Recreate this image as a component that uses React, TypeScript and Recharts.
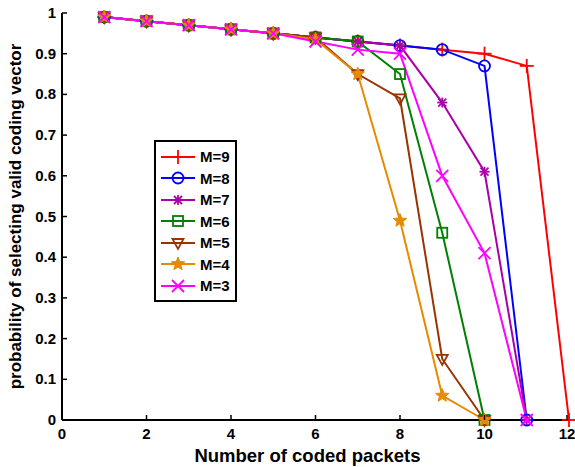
import { LineChart, Line, XAxis, YAxis } from 'recharts';

const packets = [1, 2, 3, 4, 5, 6, 7, 8, 9, 10, 11, 12];
const xTicks = [0, 2, 4, 6, 8, 10, 12];
const yTicks = [0, 0.1, 0.2, 0.3, 0.4, 0.5, 0.6, 0.7, 0.8, 0.9, 1];

const m9 = [0.99, 0.98, 0.97, 0.96, 0.95, 0.94, 0.93, 0.92, 0.91, 0.9, 0.87, 0];
const m8 = [0.99, 0.98, 0.97, 0.96, 0.95, 0.94, 0.93, 0.92, 0.91, 0.87, 0];
const m7 = [0.99, 0.98, 0.97, 0.96, 0.95, 0.94, 0.93, 0.92, 0.78, 0.61, 0];
const m6 = [0.99, 0.98, 0.97, 0.96, 0.95, 0.94, 0.93, 0.85, 0.46, 0];
const m5 = [0.99, 0.98, 0.97, 0.96, 0.95, 0.94, 0.85, 0.79, 0.15, 0];
const m4 = [0.99, 0.98, 0.97, 0.96, 0.95, 0.935, 0.85, 0.49, 0.06, 0];
const m3 = [0.99, 0.98, 0.97, 0.96, 0.95, 0.93, 0.91, 0.9, 0.6, 0.41, 0];

const series = [
  { key: 'm9', name: 'M=9', values: m9, color: '#ff0000', marker: 'plus' },
  { key: 'm8', name: 'M=8', values: m8, color: '#0000ff', marker: 'circle' },
  { key: 'm7', name: 'M=7', values: m7, color: '#aa00aa', marker: 'asterisk' },
  { key: 'm6', name: 'M=6', values: m6, color: '#008000', marker: 'square' },
  { key: 'm5', name: 'M=5', values: m5, color: '#993300', marker: 'triangle' },
  { key: 'm4', name: 'M=4', values: m4, color: '#e68a00', marker: 'star' },
  { key: 'm3', name: 'M=3', values: m3, color: '#ff00ff', marker: 'cross' },
];

const data = packets.map((x, i) => {
  const row: any = { x };
  series.forEach((s) => {
    row[s.key] = i < s.values.length ? s.values[i] : null;
  });
  return row;
});

const FONT = '"Liberation Sans", Arial, sans-serif';

function Marker({ type, cx, cy, color }: any) {
  const sw = 1.8;
  switch (type) {
    case 'plus':
      return (
        <g stroke={color} strokeWidth={sw}>
          <line x1={cx - 7} y1={cy} x2={cx + 7} y2={cy} />
          <line x1={cx} y1={cy - 7} x2={cx} y2={cy + 7} />
        </g>
      );
    case 'circle':
      return <circle cx={cx} cy={cy} r={5.5} fill="none" stroke={color} strokeWidth={sw} />;
    case 'asterisk':
      return (
        <g stroke={color} strokeWidth={sw}>
          <line x1={cx - 5} y1={cy} x2={cx + 5} y2={cy} />
          <line x1={cx} y1={cy - 5} x2={cx} y2={cy + 5} />
          <line x1={cx - 4} y1={cy - 4} x2={cx + 4} y2={cy + 4} />
          <line x1={cx - 4} y1={cy + 4} x2={cx + 4} y2={cy - 4} />
        </g>
      );
    case 'square':
      return <rect x={cx - 5} y={cy - 5} width={10} height={10} fill="none" stroke={color} strokeWidth={sw} />;
    case 'triangle':
      return (
        <polygon
          points={`${cx - 5.5},${cy - 4} ${cx + 5.5},${cy - 4} ${cx},${cy + 6}`}
          fill="none"
          stroke={color}
          strokeWidth={sw}
        />
      );
    case 'star': {
      const pts: string[] = [];
      for (let k = 0; k < 10; k++) {
        const r = k % 2 === 0 ? 7 : 3;
        const a = -Math.PI / 2 + (k * Math.PI) / 5;
        pts.push(`${cx + r * Math.cos(a)},${cy + r * Math.sin(a)}`);
      }
      return <polygon points={pts.join(' ')} fill={color} stroke={color} strokeWidth={1} />;
    }
    default:
      return (
        <g stroke={color} strokeWidth={sw}>
          <line x1={cx - 6} y1={cy - 6} x2={cx + 6} y2={cy + 6} />
          <line x1={cx - 6} y1={cy + 6} x2={cx + 6} y2={cy - 6} />
        </g>
      );
  }
}

const tickText = { fontFamily: FONT, fontWeight: 700, fontSize: 15, fill: '#000' };

function BottomTick({ x, y, payload }: any) {
  return (
    <g>
      <line x1={x} y1={y} x2={x} y2={y - 5} stroke="#000" strokeWidth={1.5} />
      <text x={x} y={y + 19} textAnchor="middle" style={tickText}>{payload.value}</text>
    </g>
  );
}

function TopTick({ x, y }: any) {
  return <line x1={x} y1={y} x2={x} y2={y + 5} stroke="#000" strokeWidth={1.5} />;
}

function LeftTick({ x, y, payload }: any) {
  return (
    <g>
      <line x1={x} y1={y} x2={x + 5} y2={y} stroke="#000" strokeWidth={1.5} />
      <text x={x - 6} y={y + 5} textAnchor="end" style={tickText}>{payload.value}</text>
    </g>
  );
}

function RightTick({ x, y }: any) {
  return <line x1={x} y1={y} x2={x - 5} y2={y} stroke="#000" strokeWidth={1.5} />;
}

function LegendBox() {
  return (
    <div
      style={{
        position: 'absolute',
        left: 154,
        top: 140,
        border: '2px solid #000',
        background: '#fff',
        width: 79,
        padding: '4px 0 3px 0',
        fontFamily: FONT,
      }}
    >
      {series.map((s) => (
        <div key={s.key} style={{ display: 'flex', alignItems: 'center', height: 21.5 }}>
          <svg width={44} height={20} style={{ display: 'block' }}>
            <line x1={5} y1={10} x2={39} y2={10} stroke={s.color} strokeWidth={2} />
            <Marker type={s.marker} cx={22} cy={10} color={s.color} />
          </svg>
          <span style={{ fontWeight: 700, fontSize: 15, color: '#000' }}>{s.name}</span>
        </div>
      ))}
    </div>
  );
}

export default function App() {
  return (
    <div style={{ position: 'absolute', left: 0, top: 0, width: 575, height: 467, background: '#fff' }}>
      <LineChart width={575} height={467} data={data} margin={{ top: 13, right: 6, bottom: 0, left: 0 }}>
        <XAxis
          dataKey="x"
          type="number"
          domain={[0, 12]}
          ticks={xTicks}
          tickSize={0}
          tickMargin={0}
          tickLine={false}
          tick={<BottomTick />}
          height={47}
          axisLine={{ stroke: '#000', strokeWidth: 2 }}
          label={{
            value: 'Number of coded packets',
            position: 'insideBottom',
            offset: 5,
            dx: -8,
            style: { fontFamily: FONT, fontWeight: 700, fontSize: 18.5, fill: '#000' },
          }}
        />
        <XAxis
          xAxisId="top"
          orientation="top"
          dataKey="x"
          type="number"
          domain={[0, 12]}
          ticks={xTicks}
          tickSize={0}
          tickMargin={0}
          tickLine={false}
          tick={<TopTick />}
          height={0}
          axisLine={{ stroke: '#000', strokeWidth: 2 }}
        />
        <YAxis
          type="number"
          domain={[0, 1]}
          ticks={yTicks}
          tickSize={0}
          tickMargin={0}
          tickLine={false}
          tick={<LeftTick />}
          width={62}
          axisLine={{ stroke: '#000', strokeWidth: 2 }}
          label={{
            value: 'probability of selecting valid coding vector',
            angle: -90,
            position: 'insideLeft',
            offset: 15,
            style: { fontFamily: FONT, fontWeight: 700, fontSize: 17, fill: '#000', textAnchor: 'middle' },
          }}
        />
        <YAxis
          yAxisId="right"
          orientation="right"
          type="number"
          domain={[0, 1]}
          ticks={yTicks}
          tickSize={0}
          tickMargin={0}
          tickLine={false}
          tick={<RightTick />}
          width={0}
          axisLine={{ stroke: '#000', strokeWidth: 2 }}
        />
        {series.map((s) => (
          <Line
            key={s.key}
            dataKey={s.key}
            name={s.name}
            stroke={s.color}
            strokeWidth={2}
            isAnimationActive={false}
            dot={(p: any) =>
              p.cx == null || p.cy == null || p.value == null ? (
                <g key={p.key ?? `${s.key}-${p.index}`} />
              ) : (
                <g key={p.key ?? `${s.key}-${p.index}`}>
                  <Marker type={s.marker} cx={p.cx} cy={p.cy} color={s.color} />
                </g>
              )
            }
            activeDot={false}
          />
        ))}
      </LineChart>
      <LegendBox />
    </div>
  );
}
